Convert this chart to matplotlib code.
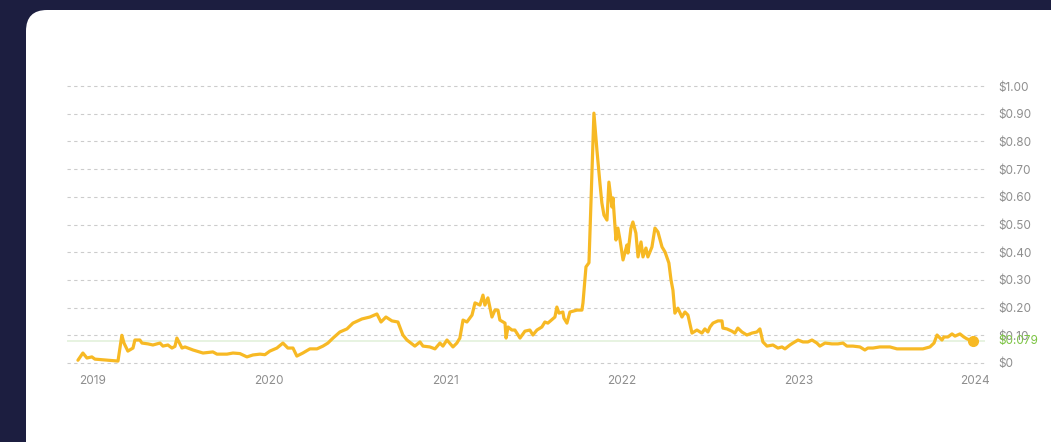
import matplotlib
matplotlib.use("Agg")
import matplotlib.pyplot as plt
from matplotlib.patches import FancyBboxPatch
import numpy as np

# ---- data (decimal year, price in USD) ----
t = [2018.915, 2018.943, 2018.966, 2018.994, 2019.011, 2019.142, 2019.164, 2019.176,
     2019.198, 2019.227, 2019.238, 2019.266, 2019.278, 2019.312, 2019.340, 2019.380,
     2019.397, 2019.425, 2019.448, 2019.465, 2019.476, 2019.505, 2019.522, 2019.567,
     2019.624, 2019.680, 2019.703, 2019.760, 2019.794, 2019.833, 2019.873, 2019.907,
     2019.947, 2019.975, 2020.003, 2020.043, 2020.077, 2020.105, 2020.134, 2020.156,
     2020.190, 2020.230, 2020.270, 2020.304, 2020.332, 2020.361, 2020.400, 2020.440,
     2020.474, 2020.525, 2020.570, 2020.610, 2020.633, 2020.661, 2020.695, 2020.729,
     2020.757, 2020.780, 2020.825, 2020.854, 2020.871, 2020.910, 2020.939, 2020.967,
     2020.984, 2021.007, 2021.041, 2021.063, 2021.080, 2021.098, 2021.120, 2021.149,
     2021.166, 2021.194, 2021.211, 2021.222, 2021.239, 2021.262, 2021.279, 2021.296,
     2021.307, 2021.336, 2021.342, 2021.353, 2021.375, 2021.392, 2021.421, 2021.449,
     2021.477, 2021.494, 2021.517, 2021.545, 2021.562, 2021.579, 2021.619, 2021.630,
     2021.642, 2021.664, 2021.670, 2021.687, 2021.704, 2021.744, 2021.772, 2021.778,
     2021.795, 2021.812, 2021.840, 2021.857, 2021.874, 2021.885, 2021.897, 2021.914,
     2021.925, 2021.942, 2021.948, 2021.965, 2021.976, 2021.988, 2022.005, 2022.027,
     2022.033, 2022.050, 2022.061, 2022.078, 2022.090, 2022.107, 2022.118, 2022.135,
     2022.146, 2022.169, 2022.186, 2022.203, 2022.226, 2022.243, 2022.265, 2022.277,
     2022.288, 2022.299, 2022.316, 2022.339, 2022.356, 2022.373, 2022.396, 2022.424,
     2022.452, 2022.469, 2022.486, 2022.498, 2022.515, 2022.543, 2022.566, 2022.571,
     2022.594, 2022.622, 2022.639, 2022.656, 2022.679, 2022.707, 2022.736, 2022.764,
     2022.781, 2022.798, 2022.821, 2022.855, 2022.883, 2022.906, 2022.923, 2022.951,
     2022.968, 2022.997, 2023.025, 2023.053, 2023.076, 2023.104, 2023.121, 2023.150,
     2023.189, 2023.223, 2023.252, 2023.274, 2023.308, 2023.348, 2023.376, 2023.393,
     2023.422, 2023.461, 2023.518, 2023.558, 2023.631, 2023.705, 2023.745, 2023.768,
     2023.785, 2023.796, 2023.813, 2023.824, 2023.847, 2023.870, 2023.887, 2023.915,
     2023.937, 2023.955, 2023.971, 2023.989]
price = [0.010, 0.036, 0.018, 0.022, 0.014, 0.007, 0.100, 0.072,
         0.043, 0.054, 0.083, 0.083, 0.072, 0.069, 0.065, 0.072,
         0.061, 0.065, 0.054, 0.060, 0.090, 0.054, 0.058, 0.047,
         0.036, 0.040, 0.032, 0.032, 0.036, 0.034, 0.022, 0.029,
         0.032, 0.030, 0.043, 0.054, 0.072, 0.054, 0.054, 0.025,
         0.036, 0.051, 0.051, 0.061, 0.072, 0.090, 0.112, 0.123,
         0.144, 0.159, 0.166, 0.177, 0.148, 0.166, 0.152, 0.148,
         0.101, 0.083, 0.061, 0.076, 0.061, 0.058, 0.051, 0.072,
         0.061, 0.083, 0.058, 0.072, 0.090, 0.155, 0.148, 0.173,
         0.217, 0.209, 0.245, 0.209, 0.235, 0.166, 0.191, 0.191,
         0.155, 0.144, 0.090, 0.130, 0.119, 0.119, 0.090, 0.115,
         0.119, 0.101, 0.119, 0.130, 0.148, 0.144, 0.166, 0.202,
         0.180, 0.184, 0.162, 0.144, 0.184, 0.191, 0.191, 0.217,
         0.347, 0.362, 0.902, 0.769, 0.650, 0.578, 0.534, 0.516,
         0.653, 0.563, 0.596, 0.444, 0.487, 0.444, 0.372, 0.426,
         0.397, 0.487, 0.509, 0.469, 0.383, 0.437, 0.383, 0.415,
         0.383, 0.419, 0.487, 0.473, 0.419, 0.401, 0.361, 0.300,
         0.263, 0.180, 0.198, 0.166, 0.184, 0.173, 0.108, 0.119,
         0.108, 0.123, 0.112, 0.130, 0.144, 0.152, 0.152, 0.126,
         0.123, 0.115, 0.108, 0.126, 0.112, 0.101, 0.108, 0.112,
         0.123, 0.076, 0.061, 0.065, 0.054, 0.058, 0.051, 0.065,
         0.072, 0.083, 0.076, 0.076, 0.083, 0.072, 0.061, 0.072,
         0.069, 0.069, 0.072, 0.061, 0.061, 0.058, 0.047, 0.054,
         0.054, 0.058, 0.058, 0.051, 0.051, 0.051, 0.058, 0.072,
         0.101, 0.094, 0.083, 0.094, 0.094, 0.105, 0.097, 0.105,
         0.094, 0.087, 0.083, 0.079]
current_price = 0.079
y_ticks = [0, 0.1, 0.2, 0.3, 0.4, 0.5, 0.6, 0.7, 0.8, 0.9, 1.0]
y_labels = ["$0", "$0.10", "$0.20", "$0.30", "$0.40", "$0.50",
            "$0.60", "$0.70", "$0.80", "$0.90", "$1.00"]
x_ticks = [2019, 2020, 2021, 2022, 2023, 2024]
x_labels = ["2019", "2020", "2021", "2022", "2023", "2024"]

W, H = 1051, 442
fig = plt.figure(figsize=(W / 100, H / 100), dpi=100)
fig.patch.set_facecolor("#1c1e40")

# white rounded card (behind the axes)
card = FancyBboxPatch((26 / W, -40 / H), (W + 40 - 26) / W, (H + 40 - 10) / H,
                      boxstyle="round,pad=0,rounding_size=0.02",
                      transform=fig.transFigure, facecolor="white",
                      edgecolor="none", mutation_aspect=W / H, zorder=-10)
fig.patches.append(card)

ax = fig.add_axes([67 / W, (H - 363) / H, (985 - 67) / W, 277 / H])
ax.set_zorder(5)
ax.set_facecolor("none")
for s in ax.spines.values():
    s.set_visible(False)

ax.set_xlim(2018.853, 2024.057)
ax.set_ylim(0, 1.0)

for yv in y_ticks:
    ax.axhline(yv, color="#cccccc", lw=0.8, ls=(0, (3, 3)), zorder=1, clip_on=False)
ax.axhline(current_price, color="#e3f1dc", lw=1.2, zorder=1)

ax.plot(t, price, color="#f7b924", lw=2.3, solid_joinstyle="round",
        solid_capstyle="round", zorder=3, clip_on=False)
ax.plot([t[-1]], [price[-1]], "o", color="#f7b924", ms=7, zorder=4, clip_on=False)

ax.set_yticks(y_ticks)
ax.set_yticklabels(y_labels)
ax.yaxis.tick_right()
ax.tick_params(axis="y", length=0, pad=9.4, labelsize=8.5, labelcolor="#8e8e8e")
ax.set_xticks(x_ticks)
ax.set_xticklabels(x_labels)
ax.tick_params(axis="x", length=0, pad=9, labelsize=8.5, labelcolor="#8e8e8e")
for lab in ax.get_xticklabels() + ax.get_yticklabels():
    lab.set_fontfamily("Inter")

ax.text(1.0 + 13 / (985 - 67), current_price, "$0.079",
        transform=ax.get_yaxis_transform(),
        ha="left", va="center", color="#7cc443", fontsize=8.5,
        fontfamily="Inter")

fig.savefig("out.png", dpi=100, facecolor=fig.get_facecolor())
